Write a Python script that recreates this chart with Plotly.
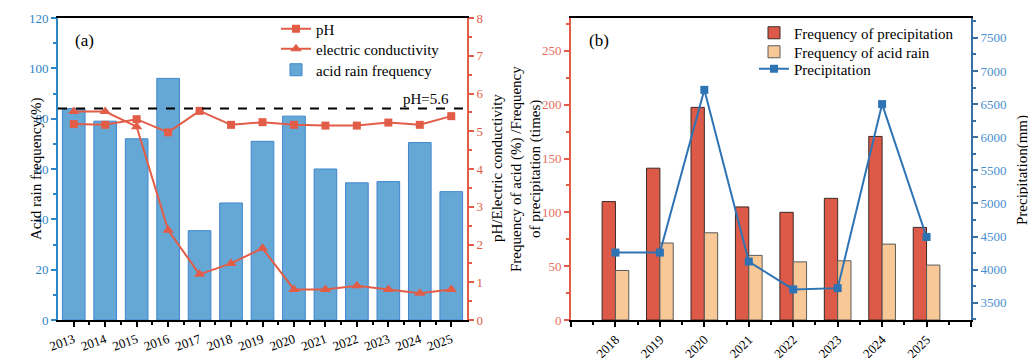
import plotly.graph_objects as go

# ---------------- data ----------------
years_a = [2013, 2014, 2015, 2016, 2017, 2018, 2019, 2020, 2021, 2022, 2023, 2024, 2025]
acid_rain_freq = [84, 79, 72, 96, 35.5, 46.5, 71, 81, 60, 54.5, 55, 70.5, 51]
ph_values = [5.19, 5.17, 5.32, 4.97, 5.54, 5.17, 5.24, 5.17, 5.15, 5.15, 5.23, 5.17, 5.40]
ec_values = [5.52, 5.52, 5.12, 2.38, 1.21, 1.50, 1.90, 0.81, 0.81, 0.91, 0.81, 0.71, 0.81]
ph_threshold = 5.6

years_b = [2018, 2019, 2020, 2021, 2022, 2023, 2024, 2025]
precip_freq = [110, 141, 197.5, 105, 100, 113, 170.5, 86]
acid_freq_b = [46, 71.5, 81, 60, 54, 55, 70.5, 51]
precipitation = [4258, 4258, 6715, 4123, 3702, 3721, 6500, 4493]

FONT = "Liberation Serif, Times New Roman, serif"
BLUE_BAR = "#66a8d5"
BLUE_EDGE = "#3f86cf"
BLUE_AX = "#2f86c6"
RED = "#e25d48"
RED_BAR = "#de5a48"
PEACH = "#f8c897"
LINE_BLUE = "#2e74b5"
RAX_BLUE = "#3a6fa6"

# page body has an 8px margin: figure is drawn 8px in from the window corner
OFF = 8
W, H = 1036 - OFF, 358 - OFF
PLOT_TOP, PLOT_BOT = 18, 320  # window pixel rows of plot area


def px(x):
    return (x - OFF) / W


def py(y):
    return (PLOT_BOT - y) / (PLOT_BOT - PLOT_TOP)


fig = go.Figure()

# ---------- panel (a) ----------
fig.add_trace(go.Bar(
    x=years_a, y=acid_rain_freq, name="acid rain frequency",
    marker=dict(color=BLUE_BAR, line=dict(color=BLUE_EDGE, width=1)),
    width=0.72, xaxis="x", yaxis="y", legend="legend3"))
fig.add_trace(go.Scatter(
    x=years_a, y=ph_values, name="pH", mode="lines+markers",
    line=dict(color=RED, width=2), marker=dict(symbol="square", size=8, color=RED),
    xaxis="x", yaxis="y2", legend="legend"))
fig.add_trace(go.Scatter(
    x=years_a, y=ec_values, name="electric conductivity", mode="lines+markers",
    line=dict(color=RED, width=2), marker=dict(symbol="triangle-up", size=10, color=RED),
    xaxis="x", yaxis="y2", legend="legend2"))

# ---------- panel (b) ----------
fig.add_trace(go.Bar(
    x=years_b, y=precip_freq, name="Frequency of precipitation",
    marker=dict(color=RED_BAR, line=dict(color="#3a2a26", width=1)),
    width=0.3, offset=-0.3, xaxis="x2", yaxis="y3", legend="legend4"))
fig.add_trace(go.Bar(
    x=years_b, y=acid_freq_b, name="Frequency of acid rain",
    marker=dict(color=PEACH, line=dict(color="#5a5a5a", width=1)),
    width=0.3, offset=0, xaxis="x2", yaxis="y3", legend="legend5"))
fig.add_trace(go.Scatter(
    x=years_b, y=precipitation, name="Precipitation", mode="lines+markers",
    line=dict(color=LINE_BLUE, width=2), marker=dict(symbol="square", size=8, color=LINE_BLUE),
    xaxis="x2", yaxis="y4", legend="legend6"))

tickfont = dict(family=FONT, size=13, color="black")


def leg(xpx, ypx):
    return dict(x=px(xpx), y=py(ypx), xanchor="left", yanchor="middle",
                bgcolor="rgba(0,0,0,0)", font=dict(family=FONT, size=15, color="black"),
                itemwidth=30)


fig.update_layout(
    width=W, height=H,
    margin=dict(l=0, r=0, t=PLOT_TOP - OFF, b=H - (PLOT_BOT - OFF), autoexpand=False),
    paper_bgcolor="white", plot_bgcolor="white",
    font=dict(family=FONT, size=14, color="black"),
    barmode="overlay",
    xaxis=dict(
        domain=[px(58), px(467)], anchor="y", automargin=False,
        range=[2012.5, 2025.5], tickmode="array", tickvals=years_a,
        tickangle=-20, ticks="outside", ticklen=5, tickwidth=1.5, tickcolor="black",
        minor=dict(tickmode="array", tickvals=[y + 0.5 for y in years_a[:-1]],
                   ticks="outside", ticklen=3, tickcolor="black"),
        showline=True, linecolor="black", linewidth=2, mirror=True,
        showgrid=False, zeroline=False, tickfont=tickfont),
    yaxis=dict(
        anchor="x", automargin=False, range=[0, 120], dtick=20, ticks="outside", ticklen=5,
        tickcolor=BLUE_AX, tickwidth=1.5,
        minor=dict(dtick=10, ticks="outside", ticklen=3, tickcolor=BLUE_AX),
        showline=True, linecolor=BLUE_AX, linewidth=2,
        showgrid=False, zeroline=False,
        tickfont=dict(family=FONT, size=13, color=BLUE_AX)),
    yaxis2=dict(
        anchor="x", automargin=False, overlaying="y", side="right", range=[0, 8], dtick=1,
        ticks="outside", ticklen=5, tickcolor=RED, tickwidth=1.5,
        minor=dict(dtick=0.5, ticks="outside", ticklen=3, tickcolor=RED),
        showline=True, linecolor=RED, linewidth=2,
        showgrid=False, zeroline=False,
        tickfont=dict(family=FONT, size=13, color=RED)),
    xaxis2=dict(
        domain=[px(571), px(971)], anchor="y3", automargin=False,
        range=[2017, 2026], tickmode="array", tickvals=list(range(2017, 2027)),
        ticktext=[""] + [str(y) for y in years_b] + [""],
        tickangle=-45, ticks="outside", ticklen=5, tickwidth=1.5, tickcolor="black",
        minor=dict(tickmode="array", tickvals=[y + 0.5 for y in range(2017, 2026)],
                   ticks="outside", ticklen=3, tickcolor="black"),
        showline=True, linecolor="black", linewidth=2, mirror=True,
        showgrid=False, zeroline=False, tickfont=tickfont),
    yaxis3=dict(
        anchor="x2", automargin=False, range=[0, 280.5], dtick=50, ticks="outside", ticklen=5,
        tickcolor=RED, tickwidth=1.5,
        minor=dict(dtick=25, ticks="outside", ticklen=3, tickcolor=RED),
        showline=True, linecolor=RED, linewidth=2,
        showgrid=False, zeroline=False,
        tickfont=dict(family=FONT, size=13, color="#ea6e5e")),
    yaxis4=dict(
        anchor="x2", automargin=False, overlaying="y3", side="right", range=[3240, 7800],
        tickmode="array", tickvals=list(range(3500, 7501, 500)),
        ticks="outside", ticklen=5, tickcolor=RAX_BLUE, tickwidth=1.5,
        minor=dict(tickmode="array", tickvals=list(range(3250, 7800, 500)),
                   ticks="outside", ticklen=3, tickcolor=RAX_BLUE),
        showline=True, linecolor=RAX_BLUE, linewidth=2,
        showgrid=False, zeroline=False,
        tickfont=dict(family=FONT, size=13, color="#4a8fd0")),
    legend=leg(276, 29),
    legend2=leg(276, 49),
    legend3=leg(276, 70),
    legend4=leg(754, 33),
    legend5=leg(754, 52),
    legend6=leg(754, 69),
    showlegend=True,
)

# pH = 5.6 threshold line
fig.add_shape(type="line", xref="x", yref="y2", x0=2012.5, x1=2025.5,
              y0=ph_threshold, y1=ph_threshold,
              line=dict(color="black", width=2, dash="dash"))

annos = [
    dict(text="pH=5.6", xref="x", yref="y2", x=2024.2, y=ph_threshold,
         xanchor="center", yanchor="bottom", showarrow=False,
         font=dict(family=FONT, size=15, color="black")),
    dict(text="(a)", xref="paper", yref="paper", x=px(84), y=py(40),
         xanchor="center", yanchor="middle", showarrow=False,
         font=dict(family=FONT, size=17, color="black")),
    dict(text="(b)", xref="paper", yref="paper", x=px(599), y=py(40),
         xanchor="center", yanchor="middle", showarrow=False,
         font=dict(family=FONT, size=17, color="black")),
    dict(text="Acid rain frequency(%)", xref="paper", yref="paper",
         x=px(36), y=py(169), textangle=-90, xanchor="center", yanchor="middle",
         showarrow=False, font=dict(family=FONT, size=15, color="black")),
    dict(text="pH/Electric conductivity", xref="paper", yref="paper",
         x=px(497), y=py(168), textangle=-90, xanchor="center", yanchor="middle",
         showarrow=False, font=dict(family=FONT, size=15, color="black")),
    dict(text="Frequency of acid (%) /Frequency", xref="paper", yref="paper",
         x=px(516), y=py(169), textangle=-90, xanchor="center", yanchor="middle",
         showarrow=False, font=dict(family=FONT, size=15, color="black")),
    dict(text="of precipitation (times)", xref="paper", yref="paper",
         x=px(535), y=py(169), textangle=-90, xanchor="center", yanchor="middle",
         showarrow=False, font=dict(family=FONT, size=15, color="black")),
    dict(text="Precipitation(mm)", xref="paper", yref="paper",
         x=px(1022), y=py(170), textangle=-90, xanchor="center", yanchor="middle",
         showarrow=False, font=dict(family=FONT, size=15, color="black")),
]
fig.update_layout(annotations=annos)

fig.write_html("out.html")
